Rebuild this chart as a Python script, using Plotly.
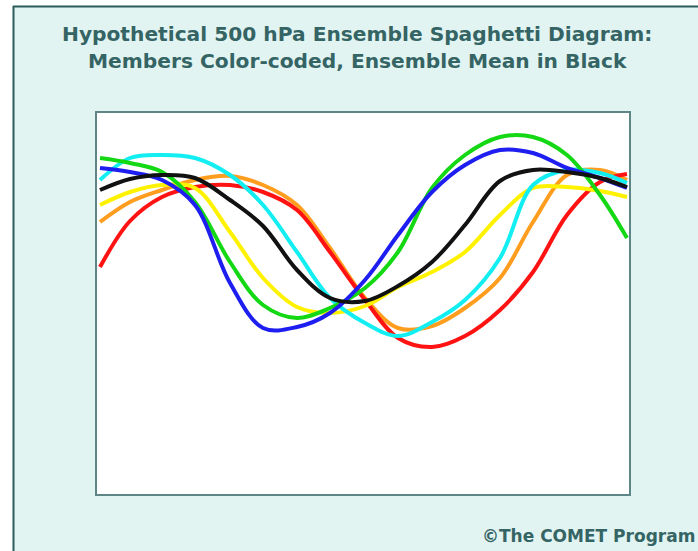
import plotly.graph_objects as go

# Horizontal position along the cross-section (arbitrary units)
x_pos = [3, 33, 65, 98, 133, 166, 200, 233, 268, 301, 335, 368, 403, 436, 470, 503, 530]

# Hypothetical 500 hPa contour position for each member (arbitrary height units)
red    = [227, 273, 297, 307, 309, 302, 284, 242, 194, 156, 147, 158, 184, 222, 279, 312, 320]
orange = [272, 292, 304, 314, 318, 309, 289, 246, 196, 166, 168, 186, 216, 272, 319, 324, 314]
yellow = [289, 302, 309, 306, 262, 216, 187, 181, 188, 207, 222, 242, 279, 306, 307, 303, 297]
cyan   = [314, 336, 339, 336, 319, 289, 242, 196, 171, 158, 172, 194, 236, 309, 324, 321, 311]
green  = [336, 331, 322, 292, 232, 189, 176, 186, 206, 242, 306, 339, 357, 357, 339, 299, 256]
blue   = [326, 322, 314, 289, 211, 166, 167, 181, 214, 259, 302, 329, 344, 341, 326, 316, 306]
mean   = [304, 315, 319, 316, 294, 268, 224, 196, 193, 208, 232, 269, 313, 324, 322, 316, 307]

series = [
    ("Orange member", orange, "#ff9d1e"),
    ("Red member", red, "#ff1212"),
    ("Yellow member", yellow, "#fff200"),
    ("Cyan member", cyan, "#12eef2"),
    ("Green member", green, "#14d814"),
    ("Blue member", blue, "#1e1ef0"),
    ("Ensemble mean", mean, "#111111"),
]

title_lines = ["Hypothetical 500 hPa Ensemble Spaghetti Diagram:",
               "Members Color-coded, Ensemble Mean in Black"]
credit = "©The COMET Program"

BG = "#e1f4f2"
TXT = "#356464"
FONT = "DejaVu Sans, Liberation Sans, sans-serif"

fig = go.Figure()
for name, vals, col in series:
    fig.add_trace(go.Scatter(
        x=x_pos, y=vals, mode="lines", name=name,
        line=dict(color=col, width=4, shape="spline", smoothing=1.0),
        hoverinfo="skip"))

W, H = 698, 551
L, R, T, B = 97, 629, 113, 494
pw, ph = R - L, B - T

def px(xp):
    return (xp - L) / pw

def py(yp):
    return (B - yp) / ph

fig.update_layout(
    width=W, height=H,
    margin=dict(l=L, r=W - R, t=T, b=H - B, pad=0),
    paper_bgcolor=BG, plot_bgcolor="white",
    showlegend=False,
    xaxis=dict(range=[0, pw], showgrid=False, zeroline=False, showticklabels=False,
               ticks="", showline=True, mirror=True, linecolor="#5f8686", linewidth=2,
               fixedrange=True),
    yaxis=dict(range=[0, ph], showgrid=False, zeroline=False, showticklabels=False,
               ticks="", showline=True, mirror=True, linecolor="#5f8686", linewidth=2,
               fixedrange=True),
    shapes=[
        dict(type="rect", xref="paper", yref="paper", x0=px(-5), x1=px(12.5), y0=py(-5), y1=py(560),
             fillcolor="white", line=dict(width=0), layer="above"),
        dict(type="rect", xref="paper", yref="paper", x0=px(-5), x1=px(710), y0=py(-5), y1=py(5.5),
             fillcolor="white", line=dict(width=0), layer="above"),
        dict(type="line", xref="paper", yref="paper", x0=px(13.5), x1=px(13.5), y0=py(6), y1=py(560),
             line=dict(color="#2e5c5c", width=2), layer="above"),
        dict(type="line", xref="paper", yref="paper", x0=px(13), x1=px(710), y0=py(6.5), y1=py(6.5),
             line=dict(color="#2e5c5c", width=2), layer="above"),
    ],
    annotations=[
        dict(text="<b>%s</b>" % title_lines[0], xref="paper", yref="paper",
             x=px(357), y=py(34), xanchor="center", yanchor="middle", showarrow=False,
             font=dict(family=FONT, size=20.2, color=TXT)),
        dict(text="<b>%s</b>" % title_lines[1], xref="paper", yref="paper",
             x=px(357), y=py(61), xanchor="center", yanchor="middle", showarrow=False,
             font=dict(family=FONT, size=20.2, color=TXT)),
        dict(text="<b>%s</b>" % credit, xref="paper", yref="paper",
             x=px(697), y=py(536), xanchor="right", yanchor="middle", showarrow=False,
             font=dict(family=FONT, size=17, color=TXT)),
    ],
)

fig.write_html("out.html", config={"displayModeBar": False},
               post_script="document.body.style.margin='0';document.body.style.overflow='hidden';")
